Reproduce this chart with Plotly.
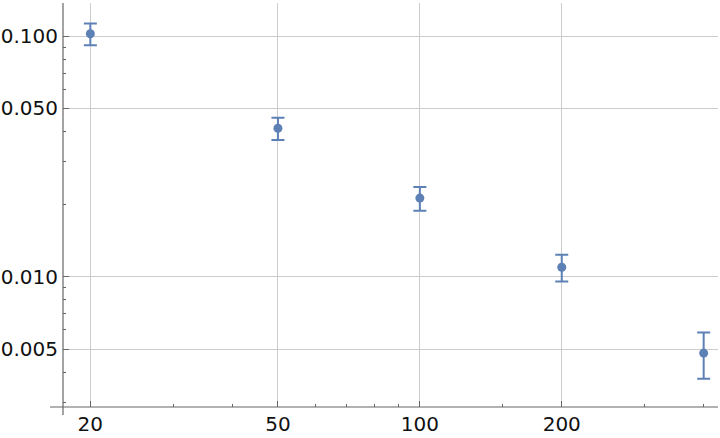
import plotly.graph_objects as go
import math

# Data
x_vals = [20, 50, 100, 200, 400]
y_vals = [0.1022, 0.0414, 0.0212, 0.01094, 0.00481]
y_err = [0.0106, 0.0044, 0.0024, 0.0014, 0.00105]

x_ticks = [20, 50, 100, 200]
x_ticktext = ["20", "50", "100", "200"]
x_minor = [30, 40, 60, 70, 80, 90, 150, 300, 400]

y_ticks = [0.005, 0.01, 0.05, 0.1]
y_ticktext = ["0.005", "0.010", "0.050", "0.100"]
y_minor = [0.003, 0.004, 0.006, 0.007, 0.008, 0.009, 0.02, 0.03, 0.04, 0.06, 0.07, 0.08, 0.09]

W, H = 720, 438
L, R, T, B = 63, 2, 3, 31
pw, ph = W - L - R, H - T - B

color = "#5e81b5"
axis_col = "#666666"
grid_col = "#cccccc"
font = dict(family="DejaVu Sans", size=20, color="#111111")

fig = go.Figure()
fig.add_trace(go.Scatter(
    x=x_vals, y=y_vals, mode="markers",
    marker=dict(color=color, size=9),
    error_y=dict(type="data", array=y_err, visible=True, color=color, thickness=2, width=6.5),
    showlegend=False, cliponaxis=False,
))

fig.update_layout(
    width=W, height=H,
    margin=dict(l=L, r=R, t=T, b=B, pad=0, autoexpand=False),
    plot_bgcolor="white", paper_bgcolor="white",
    font=font,
    xaxis=dict(
        type="log", range=[math.log10(17.5), math.log10(429)],
        tickvals=x_ticks, ticktext=x_ticktext,
        ticks="inside", ticklen=6, tickcolor=axis_col, tickwidth=1,
        showgrid=True, gridcolor=grid_col, gridwidth=1,
        showline=False, zeroline=False, automargin=False,
        minor=dict(tickvals=x_minor, ticks="inside", ticklen=3, tickcolor=axis_col, showgrid=False),
        ticklabelstandoff=3,
        tickfont=font,
    ),
    yaxis=dict(
        type="log", range=[-2.542, -0.8625],
        tickvals=y_ticks, ticktext=y_ticktext,
        ticks="inside", ticklen=6, tickcolor=axis_col, tickwidth=1,
        showgrid=True, gridcolor=grid_col, gridwidth=1,
        showline=False, zeroline=False, automargin=False,
        minor=dict(tickvals=y_minor, ticks="inside", ticklen=3, tickcolor=axis_col, showgrid=False),
        ticklabelstandoff=4,
        tickfont=font,
    ),
)

# Axis lines (Mathematica-style, extending past the origin)
fig.add_shape(type="line", xref="paper", yref="paper",
              x0=(50 - L) / pw, x1=1.0, y0=0, y1=0,
              line=dict(color=axis_col, width=1.2))
fig.add_shape(type="line", xref="paper", yref="paper",
              x0=0, x1=0, y0=-8 / ph, y1=1.0,
              line=dict(color=axis_col, width=1.2))

fig.write_html("out.html",
               config={"displayModeBar": False},
               post_script="document.body.style.margin='0';document.body.style.padding='0';")
